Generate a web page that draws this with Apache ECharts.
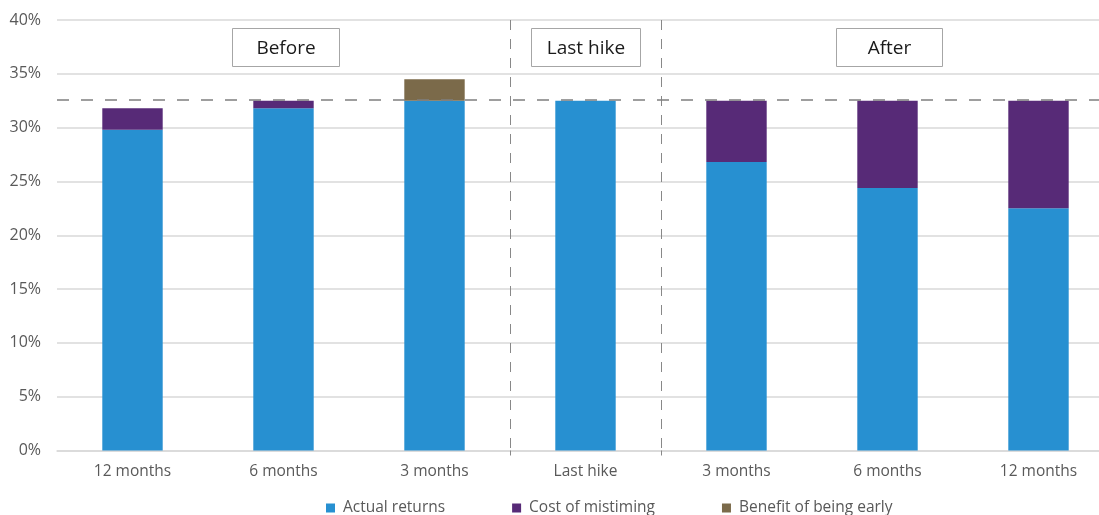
<!DOCTYPE html>
<html>
<head>
<meta charset="utf-8">
<script src="https://cdn.jsdelivr.net/npm/echarts@6/dist/echarts.min.js"></script>
<style>
  html, body { margin: 0; padding: 0; background: #fff; }
  #chart { width: 1099px; height: 515px; }
</style>
</head>
<body>
<div id="chart"></div>
<script>
// 数据
var categories = ['12 months', '6 months', '3 months', 'Last hike', '3 months', '6 months', '12 months'];
var actualReturns = [29.8, 31.8, 32.5, 32.5, 26.8, 24.4, 22.5];
var costOfMistiming = [2.0, 0.7, null, null, 5.7, 8.1, 10.0];
var benefitEarly = [null, null, 2.0, null, null, null, null];
var referenceLevel = 32.6;
var yTicks = { min: 0, max: 40, step: 5 };
var phaseLabels = ['Before', 'Last hike', 'After'];

var font = '"Open Sans", "Noto Sans", sans-serif';

// 标注框
function phaseBox(text, x, w) {
  return {
    type: 'group',
    left: x,
    top: 28,
    children: [{
      type: 'rect',
      shape: { x: 0, y: 0, width: w, height: 38 },
      style: { fill: '#fff', stroke: '#a6a6a6', lineWidth: 1 }
    }, {
      type: 'text',
      x: w / 2,
      y: 20,
      style: {
        text: text,
        fill: '#1a1a1a',
        font: '19px ' + font,
        align: 'center',
        verticalAlign: 'middle'
      }
    }]
  };
}

var chart = echarts.init(document.getElementById('chart'));
chart.setOption({
  animation: false,
  textStyle: { fontFamily: font },
  grid: { left: 57, top: 20, width: 1057, height: 430.5, outerBoundsMode: 'none', containLabel: false },
  legend: {
    top: 495,
    left: 321,
    itemWidth: 9,
    itemHeight: 9,
    itemGap: 67,
    icon: 'rect',
    textStyle: { color: '#595959', fontSize: 15.5, padding: [0, 0, 0, 3] },
    data: ['Actual returns', 'Cost of mistiming', 'Benefit of being early']
  },
  xAxis: {
    type: 'category',
    data: categories,
    axisLine: { lineStyle: { color: '#d9d9d9', width: 1.5 } },
    axisTick: {
      show: true,
      length: 5,
      interval: function (i) { return i === 3 || i === 4; },
      lineStyle: { color: '#888', width: 1 }
    },
    splitLine: {
      show: true,
      interval: function (i) { return i === 3 || i === 4; },
      lineStyle: { color: '#888', width: 1, type: [10, 9] }
    },
    axisLabel: { color: '#595959', fontSize: 15.5, margin: 13 }
  },
  yAxis: {
    type: 'value',
    min: yTicks.min,
    max: yTicks.max,
    interval: yTicks.step,
    axisLabel: { color: '#595959', fontSize: 16, margin: 16, formatter: '{value}%' },
    splitLine: { lineStyle: { color: '#d9d9d9', width: 1.5 } }
  },
  series: [{
    name: 'Actual returns',
    type: 'bar',
    stack: 'r',
    barWidth: '40%',
    itemStyle: { color: '#2790d1' },
    data: actualReturns,
    markLine: {
      silent: true,
      symbol: 'none',
      label: { show: false },
      lineStyle: { color: '#7f7f7f', width: 1.5, type: [12, 12] },
      data: [{ yAxis: referenceLevel }]
    }
  }, {
    name: 'Cost of mistiming',
    type: 'bar',
    stack: 'r',
    itemStyle: { color: '#572a77' },
    data: costOfMistiming
  }, {
    name: 'Benefit of being early',
    type: 'bar',
    stack: 'r',
    itemStyle: { color: '#7b6a4a' },
    data: benefitEarly
  }],
  graphic: [
    phaseBox(phaseLabels[0], 232, 107),
    phaseBox(phaseLabels[1], 531, 109),
    phaseBox(phaseLabels[2], 836, 106)
  ]
});
</script>
</body>
</html>
